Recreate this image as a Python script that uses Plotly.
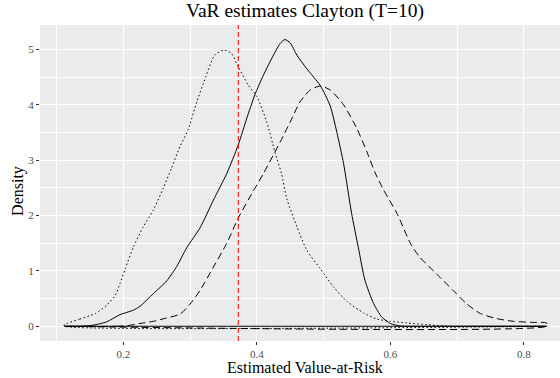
import plotly.graph_objects as go

# ---- data ----
x_dotted = [0.1116, 0.135, 0.158, 0.175, 0.188, 0.195, 0.203, 0.215, 0.230, 0.245, 0.260, 0.272,
            0.285, 0.297, 0.310, 0.320, 0.337, 0.351, 0.362, 0.372, 0.387, 0.400, 0.415, 0.427,
            0.437, 0.445, 0.460, 0.475, 0.495, 0.515, 0.535, 0.560, 0.580, 0.600, 0.625, 0.655,
            0.690, 0.750, 0.834]
y_dotted = [0.03, 0.13, 0.23, 0.38, 0.56, 0.77, 1.04, 1.43, 1.80, 2.10, 2.50, 2.85,
            3.25, 3.55, 4.05, 4.39, 4.90, 4.99, 4.93, 4.69, 4.36, 4.15, 3.69, 3.15,
            2.76, 2.30, 1.80, 1.37, 1.04, 0.71, 0.45, 0.24, 0.13, 0.09, 0.06, 0.03,
            0.0, 0.0, 0.0]

x_solid = [0.1116, 0.140, 0.155, 0.175, 0.195, 0.215, 0.225, 0.245, 0.265, 0.280, 0.295, 0.315,
           0.335, 0.355, 0.372, 0.385, 0.397, 0.410, 0.425, 0.435, 0.442, 0.450, 0.460, 0.475,
           0.495, 0.510, 0.520, 0.530, 0.542, 0.552, 0.562, 0.575, 0.587, 0.600, 0.615, 0.630,
           0.700, 0.834]
y_solid = [0.0, 0.005, 0.02, 0.08, 0.21, 0.29, 0.36, 0.59, 0.82, 1.08, 1.42, 1.78,
           2.28, 2.76, 3.27, 3.76, 4.18, 4.54, 4.90, 5.11, 5.18, 5.12, 4.90, 4.65,
           4.35, 3.98, 3.50, 2.94, 2.04, 1.43, 0.83, 0.41, 0.17, 0.05, 0.005, 0.0,
           0.0, 0.0]

x_dashed = [0.1116, 0.190, 0.205, 0.225, 0.245, 0.265, 0.285, 0.300, 0.315, 0.335, 0.355, 0.372,
            0.395, 0.410, 0.435, 0.450, 0.465, 0.480, 0.495, 0.510, 0.530, 0.550, 0.565, 0.577,
            0.590, 0.610, 0.630, 0.644, 0.669, 0.694, 0.714, 0.735, 0.759, 0.784, 0.814, 0.834]
y_dashed = [0.0, 0.0, 0.01, 0.05, 0.09, 0.15, 0.22, 0.40, 0.65, 1.07, 1.50, 1.95,
            2.45, 2.76, 3.33, 3.69, 4.06, 4.27, 4.34, 4.27, 4.00, 3.57, 3.15, 2.78,
            2.46, 2.04, 1.50, 1.25, 0.95, 0.65, 0.41, 0.23, 0.14, 0.09, 0.07, 0.06]

var_true = 0.3723

x_ticks = [0.2, 0.4, 0.6, 0.8]
x_ticklabels = ["0.2", "0.4", "0.6", "0.8"]
y_ticks = [0, 1, 2, 3, 4, 5]
y_ticklabels = ["0", "1", "2", "3", "4", "5"]

title_text = "VaR estimates Clayton (T=10)"
x_title = "Estimated Value-at-Risk"
y_title = "Density"

FONT = "Liberation Serif"

fig = go.Figure()


def closed(xs, ys):
    # close the density polygon along the baseline like geom_density's outline
    return xs + [xs[-1], xs[0], xs[0]], ys + [0, 0, ys[0]]


for xs, ys, dash in [(x_dotted, y_dotted, "1.5px,2.5px"), (x_solid, y_solid, "solid"),
                     (x_dashed, y_dashed, "7px,4px")]:
    cx, cy = closed(xs, ys)
    fig.add_trace(go.Scatter(x=cx, y=cy, mode="lines",
                             line=dict(color="black", width=1.0, dash=dash, shape="spline", smoothing=0.6),
                             showlegend=False, hoverinfo="skip"))

fig.add_vline(x=var_true, line=dict(color="red", width=1.0, dash="5px,3px"))

fig.update_layout(
    width=560, height=378,
    margin=dict(l=40, r=0, t=25, b=37),
    paper_bgcolor="white",
    plot_bgcolor="#EBEBEB",
    font=dict(family=FONT, color="black"),
    showlegend=False,
    annotations=[
        dict(text=title_text, x=0.5096, y=1.043, xref="paper", yref="paper",
             xanchor="center", yanchor="middle", showarrow=False,
             font=dict(size=19.5, family=FONT, color="black")),
        dict(text=x_title, x=0.5096, y=-0.083, xref="paper", yref="paper",
             xanchor="center", yanchor="middle", showarrow=False,
             font=dict(size=16, family=FONT, color="black")),
        dict(text=y_title, x=-0.0423, y=0.475, xref="paper", yref="paper", textangle=-90,
             xanchor="center", yanchor="middle", showarrow=False,
             font=dict(size=16, family=FONT, color="black")),
    ],
)

fig.update_xaxes(
    range=[0.0752, 0.8542],
    tickvals=x_ticks, ticktext=x_ticklabels,
    ticks="outside", ticklen=3, tickcolor="#333333", tickwidth=1,
    tickfont=dict(size=11, color="#4D4D4D", family=FONT),
    showgrid=True, gridcolor="white", gridwidth=1.1,
    minor=dict(tickvals=[0.1, 0.3, 0.5, 0.7], showgrid=True, gridcolor="white", gridwidth=0.55, ticks=""),
    zeroline=False, showline=False,
)
fig.update_yaxes(
    range=[-0.266, 5.443],
    tickvals=y_ticks, ticktext=y_ticklabels,
    ticks="outside", ticklen=3, tickcolor="#333333", tickwidth=1,
    tickfont=dict(size=11, color="#4D4D4D", family=FONT),
    showgrid=True, gridcolor="white", gridwidth=1.1,
    minor=dict(tickvals=[0.5, 1.5, 2.5, 3.5, 4.5], showgrid=True, gridcolor="white", gridwidth=0.55, ticks=""),
    zeroline=False, showline=False,
)

fig.write_html("out.html")
